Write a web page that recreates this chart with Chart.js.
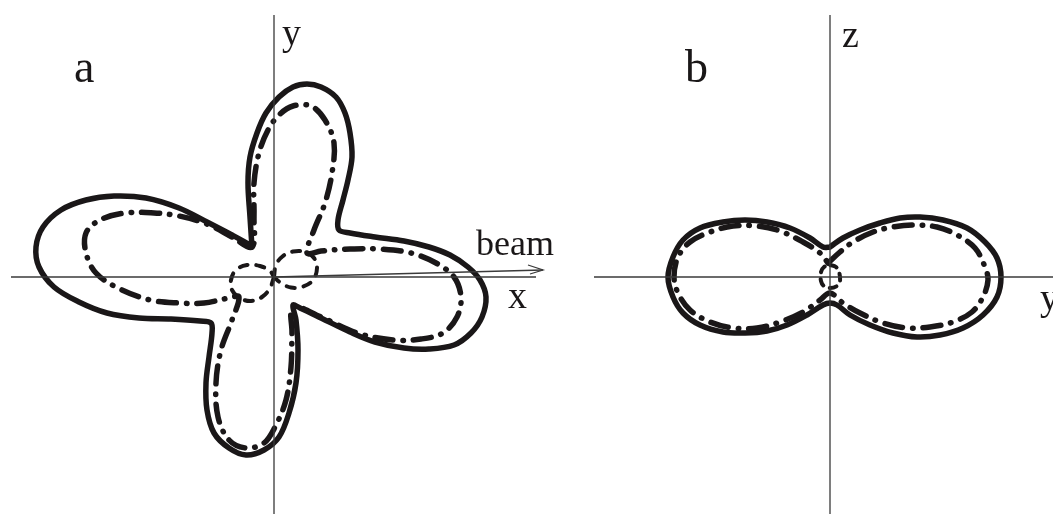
<!DOCTYPE html>
<html>
<head>
<meta charset="utf-8">
<script src="https://cdn.jsdelivr.net/npm/chart.js@4.4.1/dist/chart.umd.min.js"></script>
<style>
  html, body { margin: 0; padding: 0; background: #fff; }
  #wrap { position: relative; width: 1053px; height: 514px; overflow: hidden; }
  canvas { position: absolute; top: 0; }
  #chartA { left: 0; }
  #chartB { left: 565px; }
</style>
</head>
<body>
<div id="wrap">
  <canvas id="chartA" width="565" height="514"></canvas>
  <canvas id="chartB" width="488" height="514"></canvas>
</div>
<script>
/* =========================
   DATOS (unidades relativas, origen en el cruce de ejes)
   ========================= */

// panel a : plano x-y
const aSolidX = [-22,-24,-26,-24,-17,-8,5,19,33,47,62,71,76,78,74,69,64,65,76,101,130,155,176,194,206,212,208,197,180,155,130,101,76,47,26,19,22,24,22,15,5,-10,-28,-45,-60,-67,-68,-65,-62,-63,-74,-103,-135,-167,-195,-220,-235,-238,-231,-213,-188,-160,-128,-95,-67,-42,-24,-22];
const aSolidY = [30,60,94,120,144,164,180,190,193,190,180,164,144,120,97,77,57,47,44,40,36,30,22,10,-3,-20,-40,-56,-68,-72,-71,-65,-55,-41,-31,-28,-43,-73,-106,-136,-160,-173,-178,-171,-156,-133,-106,-80,-56,-46,-44,-42,-41,-36,-25,-10,10,30,50,67,77,81,79,69,55,42,32,30];

const aDashDotX = [-42,-67,-95,-120,-149,-174,-188,-188,-178,-156,-124,-95,-70,-45,-35,-42,-53,-58,-56,-45,-28,-10,1,12,17,18,19,47,83,119,147,169,183,187,180,162,137,105,76,47,33,40,51,58,60,51,37,19,5,-6,-15,-20,-20,-22,-42];
const aDashDotY = [40,53,61,64,64,57,44,24,4,-11,-23,-26,-26,-21,-20,-43,-73,-106,-140,-163,-171,-166,-150,-123,-90,-56,-30,-40,-56,-63,-62,-56,-40,-20,0,14,24,28,28,26,24,47,74,104,134,157,171,171,162,147,124,94,60,30,40];

const aLoopRX = [0,2,9,19,31,40,43,39,29,17,7,0];
const aLoopRY = [0,12,21,25.5,25,19,9,-3,-9.5,-10.5,-6,0];
const aLoopLX = [0,-4,-12,-23,-34,-42,-43,-38,-27,-14,-4,0];
const aLoopLY = [0,-11,-20,-24,-21,-13,-3,7,12,11,6,0];

const beamX = [0, 269];
const beamY = [0, 7];
const arrowX = [254, 269, 256];
const arrowY = [12, 7, 3];

// panel b : plano y-z
const bSolidX = [0,13,30,50,70,90,113,137,155,167,171,167,153,133,110,87,63,40,20,7,0,-7,-23,-43,-63,-85,-107,-130,-147,-157,-162,-157,-147,-130,-107,-85,-63,-40,-20,-7,0];
const bSolidY = [30,39,47,54,59,60,57,49,35,19,0,-20,-38,-51,-58,-60,-56,-48,-38,-28,-26,-28,-38,-48,-54,-56,-55,-48,-36,-20,0,20,37,49,55,57,55,49,39,30,30];

const bDashDotX = [-2,10,23,43,63,83,107,127,145,155,158,153,142,123,100,77,53,30,13,0,-10,-27,-50,-73,-97,-120,-140,-152,-156,-152,-140,-120,-97,-73,-50,-27,-10,-2];
const bDashDotY = [14,25,35,45,50,52,50,42,29,10,-3,-20,-35,-45,-50,-51,-46,-36,-26,-16,-23,-35,-45,-51,-51,-45,-33,-16,0,20,35,45,51,51,46,35,24,14];

const bOvalX = [0,6,9,10,7,0,-6,-9,-9,-6,0];
const bOvalY = [12,10,5,-4,-9,-11,-9,-4,5,10,12];

// etiquetas
const aLabels = ['a', 'y', 'beam', 'x'];
const bLabels = ['b', 'z', 'y'];

/* =========================
   HELPERS
   ========================= */
const INK = '#1a1718';
const AXIS = '#3a3a3a';
const DASHDOT = [18, 10, 0.5, 10];   // con extremos redondos
const DASHED = [8, 9];

function pts(xs, ys) {
  return xs.map((x, i) => ({ x, y: ys[i] }));
}

function curve(xs, ys, width, dash, tension) {
  return {
    data: pts(xs, ys),
    showLine: true,
    borderColor: INK,
    borderWidth: width,
    borderDash: dash || [],
    borderCapStyle: 'round',
    borderJoinStyle: 'round',
    pointRadius: 0,
    tension: tension === undefined ? 0.35 : tension,
    fill: false
  };
}

function line(xs, ys, width) {
  return {
    data: pts(xs, ys),
    showLine: true,
    borderColor: AXIS,
    borderWidth: width || 1.3,
    pointRadius: 0,
    tension: 0,
    fill: false
  };
}

// texto en coordenadas de datos
function textPlugin(items) {
  return {
    id: 'textos',
    afterDatasetsDraw(chart) {
      const { ctx, scales } = chart;
      ctx.save();
      ctx.fillStyle = INK;
      ctx.textBaseline = 'alphabetic';
      ctx.textAlign = 'left';
      items.forEach(it => {
        ctx.font = `${it.size}px "Liberation Serif", "DejaVu Serif", serif`;
        ctx.fillText(it.text, scales.x.getPixelForValue(it.x), scales.y.getPixelForValue(it.y));
      });
      ctx.restore();
    }
  };
}

function makeChart(id, xMin, xMax, datasets, texts) {
  return new Chart(document.getElementById(id).getContext('2d'), {
    type: 'scatter',
    data: { datasets },
    options: {
      responsive: false,
      animation: false,
      events: [],
      layout: { padding: 0 },
      plugins: { legend: { display: false }, tooltip: { enabled: false } },
      scales: {
        x: { type: 'linear', display: false, min: xMin, max: xMax },
        y: { type: 'linear', display: false, min: -237, max: 277 }
      }
    },
    plugins: [textPlugin(texts)]
  });
}

/* =========================
   PANEL a
   ========================= */
makeChart('chartA', -274, 291, [
  line([0, 0], [262, -237]),
  line([-263, 262], [0, 0]),
  line(beamX, beamY, 1.3),
  line(arrowX, arrowY, 1.3),
  curve(aSolidX, aSolidY, 5.5),
  curve(aDashDotX, aDashDotY, 5.5, DASHDOT),
  curve(aLoopRX, aLoopRY, 4, DASHED, 0.4),
  curve(aLoopLX, aLoopLY, 4, DASHED, 0.4)
], [
  { text: aLabels[0], x: -200, y: 195, size: 46 },
  { text: aLabels[1], x: 8, y: 232, size: 38 },
  { text: aLabels[2], x: 202, y: 22, size: 36 },
  { text: aLabels[3], x: 234, y: -31, size: 38 }
]);

/* =========================
   PANEL b
   ========================= */
makeChart('chartB', -265, 223, [
  line([0, 0], [262, -237]),
  line([-236, 223], [0, 0]),
  curve(bSolidX, bSolidY, 5.5),
  curve(bDashDotX, bDashDotY, 5.5, DASHDOT),
  curve(bOvalX, bOvalY, 4, [7, 7], 0.4)
], [
  { text: bLabels[0], x: -145, y: 195, size: 46 },
  { text: bLabels[1], x: 12, y: 230, size: 38 },
  { text: bLabels[2], x: 210, y: -33, size: 38 }
]);
</script>
</body>
</html>
